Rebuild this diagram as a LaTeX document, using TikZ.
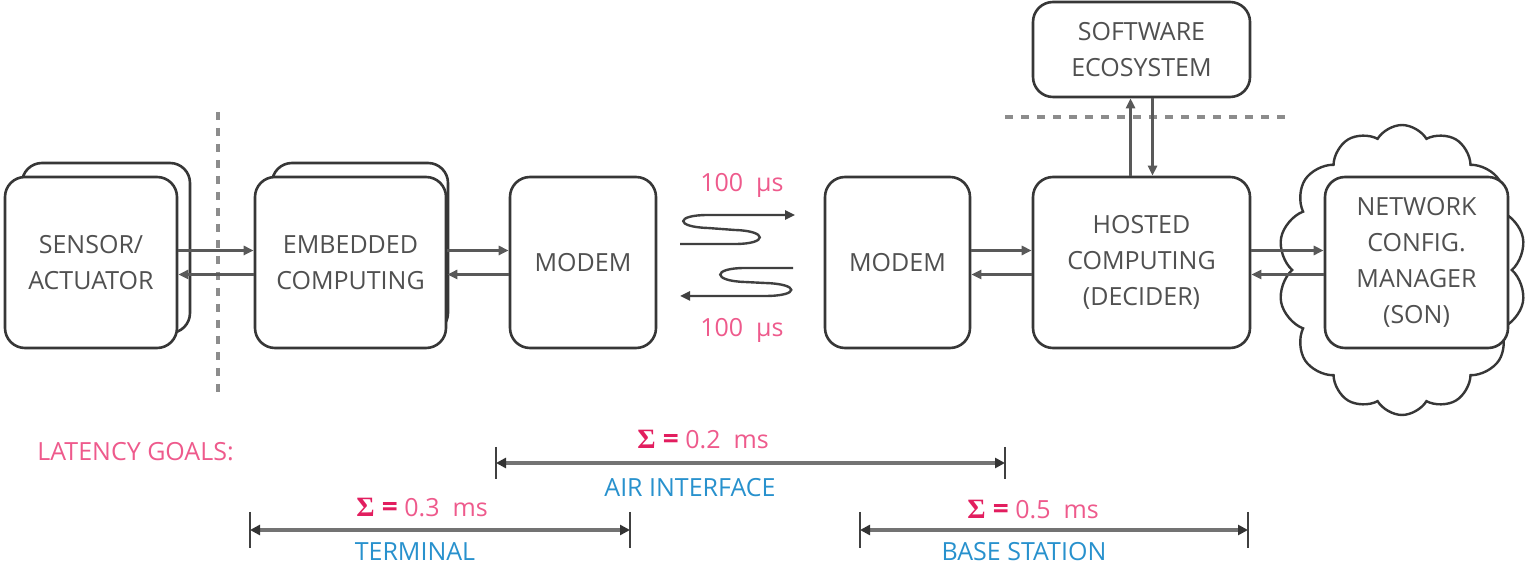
\documentclass[tikz,border=0pt]{standalone}
\usepackage{fontspec}
\setmainfont{Open Sans}
\newfontfamily\sigmafont{Liberation Serif}
\usetikzlibrary{arrows.meta,shapes.symbols}
\definecolor{pinkA}{RGB}{226,30,95}
\definecolor{pinkB}{RGB}{238,90,140}
\definecolor{blueA}{RGB}{40,145,205}
\definecolor{edge}{RGB}{55,55,55}
\definecolor{txt}{RGB}{80,80,80}
\newcommand{\sumsym}{\textcolor{pinkA}{\fontsize{14}{15}\selectfont{\sigmafont\bfseries Σ} \textbf{=}}}
\begin{document}
\begin{tikzpicture}[x=0.5pt,y=-0.5pt,
  box/.style={draw=edge,line width=1.3pt,rounded corners=10pt,fill=white,align=center,
    text=txt,font=\fontsize{12.5}{18}\selectfont,inner sep=0pt},
  conn/.style={draw=black!65,line width=1.3pt,-{Triangle[length=5pt,width=4.5pt]}},
  wave/.style={draw=black!75,line width=1.2pt},
  divider/.style={draw=black!45,line width=1.6pt,dash pattern=on 4pt off 4pt},
  dimline/.style={draw=black!55,line width=1.8pt,{Triangle[length=5pt,width=5pt,color=black!80]}-{Triangle[length=5pt,width=5pt,color=black!80]}},
  tickline/.style={draw=black!75,line width=1pt},
  pinklbl/.style={text=pinkB,font=\fontsize{12.5}{15}\selectfont,inner sep=0pt},
  bluelbl/.style={text=blueA,font=\fontsize{12.5}{15}\selectfont,inner sep=0pt}
]
\useasboundingbox (0,0) rectangle (1529,565);

% stacked boxes
\node[box,minimum width=84pt,minimum height=85pt] (sensorB) at (106,248) {};
\node[box,minimum width=86pt,minimum height=85.5pt] (sensor) at (91,262.5) {SENSOR/\\ACTUATOR};
\node[box,minimum width=88pt,minimum height=85pt] (embB) at (360,248) {};
\node[box,minimum width=95.5pt,minimum height=85.5pt] (emb) at (350.5,262.5) {EMBEDDED\\COMPUTING};
\node[box,minimum width=73pt,minimum height=85.5pt] (modemA) at (583,262.5) {MODEM};
\node[box,minimum width=72.5pt,minimum height=85.5pt] (modemB) at (897.5,262.5) {MODEM};
\node[box,minimum width=108.5pt,minimum height=85.5pt] (hosted) at (1141.5,262.5) {HOSTED\\COMPUTING\\(DECIDER)};
\node[box,minimum width=108.5pt,minimum height=47.5pt] (soft) at (1141.5,49.5) {SOFTWARE\\ECOSYSTEM};

% cloud and network manager
\node[cloud,draw=edge,line width=1.2pt,fill=white,cloud puffs=14,cloud puff arc=118,
  aspect=0.86,minimum width=124pt,minimum height=145pt,inner sep=0pt] (cloud) at (1402,270) {};
\node[box,minimum width=91.5pt,minimum height=85.5pt] (net) at (1416.5,262.5) {NETWORK\\CONFIG.\\MANAGER\\(SON)};

% dividers
\coordinate (dv1) at (218,112);
\coordinate (dv2) at (218,395);
\draw[divider] (dv1) -- (dv2);
\coordinate (dh1) at (1005,117);
\coordinate (dh2) at (1290,117);
\draw[divider] (dh1) -- (dh2);

% horizontal connectors
\draw[conn] ([yshift=6pt]sensor.east) -- ([yshift=6pt]emb.west);
\draw[conn] ([yshift=-6pt]emb.west) -- ([yshift=-6pt]sensor.east);
\draw[conn] ([yshift=6pt]emb.east) -- ([yshift=6pt]modemA.west);
\draw[conn] ([yshift=-6pt]modemA.west) -- ([yshift=-6pt]emb.east);
\draw[conn] ([yshift=6pt]modemB.east) -- ([yshift=6pt]hosted.west);
\draw[conn] ([yshift=-6pt]hosted.west) -- ([yshift=-6pt]modemB.east);
\draw[conn] ([yshift=6pt]hosted.east) -- ([yshift=6pt]net.west);
\draw[conn] ([yshift=-6pt]net.west) -- ([yshift=-6pt]hosted.east);

% vertical connectors
\draw[conn] ([xshift=-5.5pt]hosted.north) -- ([xshift=-5.5pt]soft.south);
\draw[conn] ([xshift=5.5pt]soft.south) -- ([xshift=5.5pt]hosted.north);

% wireless waves
\coordinate (w1s) at (680,244);
\coordinate (w1e) at (795,215);
\draw[wave,-{Triangle[length=5pt,width=4.5pt]}] (w1s) -- (735,244)
  .. controls (768,244) and (768,231) .. (735,230) -- (708,228)
  .. controls (675,227) and (675,215) .. (708,215) -- (w1e);
\coordinate (w2s) at (793,268);
\coordinate (w2e) at (680,296);
\draw[wave,-{Triangle[length=5pt,width=4.5pt]}] (w2s) -- (745,268)
  .. controls (712,268) and (712,281) .. (745,282) -- (765,283)
  .. controls (800,284) and (800,296) .. (765,296) -- (w2e);
\node[pinklbl] (uptxt) at (742,185) {100~~µs};
\node[pinklbl] (dntxt) at (742,330) {100~~µs};

% latency goals
\node[pinklbl,anchor=west] (goals) at (37,452) {LATENCY GOALS:};

\coordinate (ai1) at (496,463);
\coordinate (ai2) at (1005,463);
\draw[dimline] (ai1) -- (ai2);
\draw[tickline] ([yshift=8pt]ai1) -- ([yshift=-8pt]ai1);
\draw[tickline] ([yshift=8pt]ai2) -- ([yshift=-8pt]ai2);
\node[pinklbl] (aisum) at (703,440) {\sumsym{} 0.2~~ms};
\node[bluelbl] (ailbl) at (690,488) {AIR INTERFACE};

\coordinate (te1) at (250,530);
\coordinate (te2) at (630,530);
\draw[dimline] (te1) -- (te2);
\draw[tickline] ([yshift=9pt]te1) -- ([yshift=-9pt]te1);
\draw[tickline] ([yshift=9pt]te2) -- ([yshift=-9pt]te2);
\node[pinklbl] (tesum) at (422,508) {\sumsym{} 0.3~~ms};
\node[bluelbl] (telbl) at (415,552) {TERMINAL};

\coordinate (bs1) at (860,530);
\coordinate (bs2) at (1248,530);
\draw[dimline] (bs1) -- (bs2);
\draw[tickline] ([yshift=9pt]bs1) -- ([yshift=-9pt]bs1);
\draw[tickline] ([yshift=9pt]bs2) -- ([yshift=-9pt]bs2);
\node[pinklbl] (bssum) at (1033,510) {\sumsym{} 0.5~~ms};
\node[bluelbl] (bslbl) at (1024,552) {BASE STATION};
\end{tikzpicture}
\end{document}
